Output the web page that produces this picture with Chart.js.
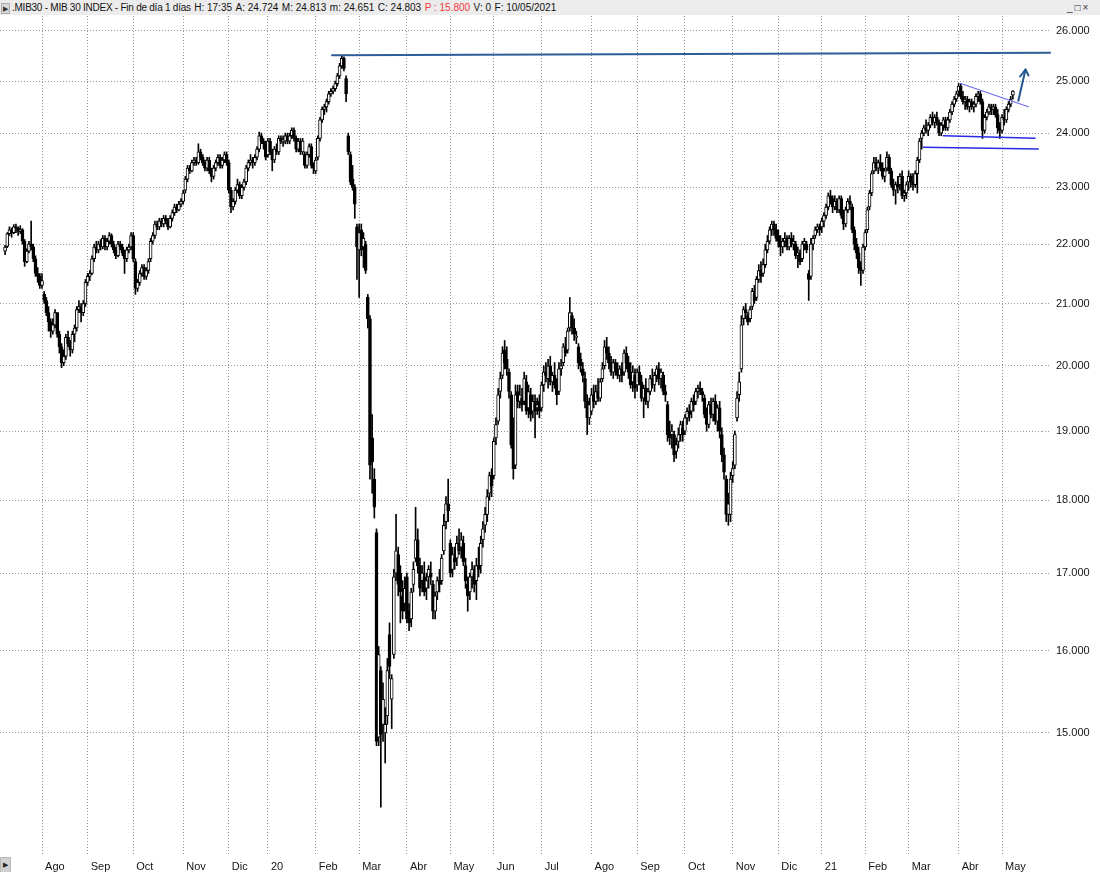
<!DOCTYPE html>
<html>
<head>
<meta charset="utf-8">
<script src="https://cdn.jsdelivr.net/npm/chart.js@4.4.1/dist/chart.umd.min.js"></script>
<style>
html,body{margin:0;padding:0;background:#fff;overflow:hidden;width:1100px;height:872px;}
#wrap{position:absolute;left:0;top:0;width:1100px;height:872px;}
#hdr{position:absolute;left:0;top:0;width:1100px;height:15px;background:#ececec;font-family:Arial,"Liberation Sans",sans-serif;font-size:10px;color:#111;line-height:15px;white-space:pre;z-index:2;}
#hdr .tri{position:absolute;left:1px;top:3px;width:7px;height:9px;background:#d6d6d6;border:1px solid #b0b0b0;font-size:7px;line-height:9px;text-align:center;color:#333;}
#hdr .txt{position:absolute;left:12px;top:0;}
#hdr .txt span{margin-left:3.5px;}
#hdr .txt span.first{margin-left:0;letter-spacing:-0.25px;}
#hdr .red{color:#f03a3a;}
#hdr .win{position:absolute;left:1067px;top:0;font-size:10px;color:#333;letter-spacing:2px;}
#btn{position:absolute;left:0;top:857px;width:9px;height:14px;background:#d0d0d0;border:1px solid #b8b8b8;font-size:7px;line-height:14px;text-align:center;color:#222;font-family:Arial,sans-serif;z-index:2;}
</style>
</head>
<body>
<div id="wrap"><canvas id="c"></canvas></div>
<div id="hdr"><span class="tri">&#9654;</span><span class="txt"><span class="first">.MIB30 - MIB 30 INDEX - Fin de día 1 días</span><span>H: 17:35</span><span>A: 24.724</span><span>M: 24.813</span><span>m: 24.651</span><span>C: 24.803</span><span class="red">P : 15.800</span><span>V: 0</span><span>F: 10/05/2021</span></span><span class="win">_□×</span></div>
<div id="btn">&#9654;</div>
<script>
// Daily candles, 9 Jul 2019 .. 10 May 2021 (one row per month)
const open = [
21880,21960,22180,22250,22200,22300,22280,22220,22250,22050,21700,21880,22000,21950,21750,21500,21450,
21300,21150,21050,20850,20700,20550,20650,20850,20500,20300,20050,20150,20450,20350,20250,20500,20600,20900,20950,20850,21000,
21350,21450,21500,21750,21950,21900,22000,21950,22100,21950,22050,22150,22000,21900,21800,22000,21950,21850,21750,21900,21950,
22150,21700,21250,21350,21500,21600,21450,21550,21750,22050,22150,22350,22300,22400,22350,22450,22400,22300,22450,22550,22650,22600,22700,
22750,22950,23150,23350,23300,23450,23500,23450,23650,23550,23450,23350,23500,23300,23200,23350,23450,23550,23400,23500,23600,
23450,22950,22650,22750,22950,23050,22850,23000,23100,23350,23450,23500,23450,23550,23700,23950,23850,23800,
23600,23850,23650,23500,23700,23650,23900,23850,23850,23950,23850,23950,24050,23900,23700,23850,23650,23600,23400,23600,23750,23400,
23300,23550,23900,24250,24450,24500,24600,24750,24800,24850,24950,25100,25300,25450,25050,23950,23600,23150,23000,22300,
21900,22250,21950,22000,21100,20750,18900,18300,17550,14950,15750,15100,15000,15200,16200,15400,15950,17000,17250,17000,16700,16600,
16950,16500,16400,16850,17200,17450,17100,16900,16950,16800,16950,17000,16850,16500,16750,16900,16900,17300,17700,17950,
17400,17050,17200,17200,17400,17350,17400,17100,16850,16750,16950,17000,16900,17100,17100,17450,17650,17800,18100,18350,
18350,18900,19150,19600,19850,20250,20100,19900,19550,18850,18500,19600,19450,19500,19450,19750,19350,19550,19300,19450,19350,19450,
19350,19700,19900,19800,20000,19750,19850,19700,19600,19950,20050,20300,20250,20600,20800,20600,20450,20300,20100,19950,19800,19450,19200,
19300,19550,19450,19600,19500,19800,20000,20300,20200,20050,19900,20050,19950,19850,19950,19900,20200,20050,19900,19750,19850,
19700,19900,19750,19500,19650,19450,19600,19800,19700,19850,19950,19800,19850,19600,19400,18950,18950,18950,18700,18850,18950,19050,
19000,19200,19300,19300,19450,19450,19600,19650,19600,19500,19250,19100,19400,19250,19450,19150,19350,18950,18650,18300,17800,17800,
18350,18500,19200,19550,19950,20750,20900,20800,20750,20950,21150,21100,21400,21550,21500,21650,21900,22050,22250,22350,22250,
22150,22050,21950,22050,22100,21950,22100,22000,22000,21800,21850,21750,22000,22000,21500,21450,22000,22150,22250,22300,
22300,22400,22500,22650,22850,22800,22650,22750,22600,22800,22500,22350,22600,22750,22650,22250,22000,21850,21600,21550,
21950,22250,22650,22900,23300,23450,23350,23450,23350,23200,23350,23550,23300,23050,22950,23050,23050,23200,22850,22900,
23100,23200,23100,23050,23250,23500,23900,24000,24100,24050,24150,24300,24200,24300,24200,24000,24150,24250,24100,24250,24400,24550,24650,
24800,24900,24700,24600,24650,24500,24600,24500,24550,24700,24750,24600,24050,24300,24400,24500,24450,24500,24350,24100,
24050,24300,24250,24450,24550,24724
];
const high = [
21980,22200,22300,22280,22340,22350,22300,22320,22270,22080,21920,22050,22400,22000,21800,21600,21500,
21500,21200,21100,20950,20750,20750,20900,20850,20550,20350,20250,20500,20550,20400,20550,20650,20950,21050,21000,21050,21400,
21500,21550,21800,22000,22050,22050,22080,22150,22150,22100,22200,22180,22050,21950,22050,22050,22000,21900,21950,22000,22200,
22200,21750,21400,21550,21650,21650,21600,21750,22100,22200,22400,22400,22450,22450,22500,22500,22450,22500,22600,22700,22700,22750,22800,
22950,23200,23400,23400,23500,23550,23550,23800,23700,23600,23500,23550,23550,23350,23400,23500,23600,23600,23550,23650,23650,
23500,23000,22800,23000,23150,23100,23050,23150,23400,23500,23600,23550,23600,23750,24020,24000,23900,23850,
23900,23900,23700,23750,23800,23950,23950,23950,24000,24000,24000,24100,24100,23950,23900,23900,23900,23650,23650,23800,23800,23450,
23550,23950,24300,24500,24550,24650,24800,24850,24900,25000,25150,25350,25500,25480,25100,24000,23650,23400,23050,22350,
22350,22350,22200,22050,21150,20800,19250,18450,17600,16050,15800,15600,15300,15900,16350,15700,17050,17800,17350,17100,16900,16950,
17000,16600,16800,17150,17900,17600,17200,17100,17150,17000,17100,17150,16900,16750,16950,17050,17250,17800,18050,18300,
17450,17350,17350,17500,17600,17550,17500,17200,16950,17000,17150,17100,17200,17350,17500,17700,17900,18150,18400,18450,
18900,19200,19650,19900,20300,20400,20300,19950,19600,19200,19700,19700,19700,19650,19900,19850,19700,19650,19550,19550,19500,19550,
19750,20000,20050,20100,20150,19900,20050,19800,20050,20100,20350,20450,20600,21100,20850,20750,20550,20350,20200,20050,19900,19550,19500,
19650,19700,19700,19800,19800,20050,20400,20450,20300,20150,20100,20100,20050,20000,20050,20250,20300,20150,20050,20000,19950,
19950,20000,19850,19700,19800,19650,19850,19950,19900,20000,20050,19950,19900,19700,19450,19150,19100,19000,18900,19050,19150,19150,
19250,19350,19400,19500,19550,19650,19700,19750,19650,19550,19350,19450,19500,19500,19550,19400,19450,19050,18750,18350,18100,18400,
18550,19000,19600,19900,20800,20950,21000,20850,20950,21250,21300,21450,21650,21700,21750,22000,22150,22300,22400,22400,22350,
22250,22150,22100,22200,22150,22150,22200,22150,22050,21950,21900,22050,22100,22050,21550,22100,22150,22300,22350,22350,
22450,22550,22700,22900,22950,22850,22850,22800,22850,22850,22600,22650,22800,22850,22700,22300,22100,21950,21700,22000,
22250,22650,22950,23300,23550,23550,23500,23600,23450,23350,23650,23600,23350,23150,23100,23200,23250,23300,22950,23100,
23300,23250,23250,23300,23550,23900,24050,24150,24250,24200,24350,24400,24350,24400,24250,24200,24300,24300,24300,24450,24600,24700,24800,
24950,24950,24800,24700,24700,24650,24650,24600,24750,24800,24800,24650,24350,24450,24550,24550,24550,24550,24450,24200,
24350,24450,24500,24600,24700,24813
];
const low = [
21820,21940,22150,22120,22180,22200,22150,22180,22000,21620,21680,21850,21900,21700,21450,21350,21250,
21250,21000,20800,20550,20450,20500,20600,20450,20200,19970,20000,20100,20300,20150,20200,20380,20550,20850,20700,20800,20950,
21300,21380,21480,21700,21850,21850,21900,21920,21900,21900,22000,21950,21850,21750,21780,21900,21800,21500,21700,21850,21900,
21700,21150,21200,21300,21450,21400,21400,21500,21700,22000,22100,22250,22250,22300,22300,22350,22250,22280,22400,22500,22550,22580,22650,
22700,22900,23100,23250,23280,23400,23400,23420,23500,23400,23300,23300,23250,23100,23150,23300,23400,23350,23350,23450,23400,
22900,22550,22600,22700,22900,22800,22800,22950,23050,23300,23400,23350,23400,23500,23650,23800,23700,23500,
23550,23600,23300,23450,23600,23600,23800,23750,23800,23800,23800,23900,23850,23650,23650,23600,23600,23350,23350,23550,23350,23250,
23250,23500,23850,24200,24350,24400,24550,24700,24750,24800,24900,25050,25250,25200,24600,23600,23050,22950,22450,21400,
21100,21800,21600,21500,20600,18300,18100,17750,14850,14850,14150,14900,14650,15100,15650,15050,15900,16900,16700,16350,16400,16500,
16350,16250,16300,16750,17150,17000,16700,16750,16700,16650,16800,16850,16400,16400,16650,16750,16850,17250,17600,17700,
16950,16950,17050,17100,17250,17200,17100,16800,16500,16650,16800,16750,16650,16950,17000,17350,17550,17700,18000,18050,
18300,18800,19100,19500,19800,19950,19850,19500,18750,18300,18450,19350,19350,19300,19400,19250,19200,19150,19200,18900,19250,19200,
19300,19600,19750,19650,19700,19600,19650,19400,19550,19850,20000,20150,20200,20550,20500,20400,20350,19950,19900,19750,19350,18950,19100,
19250,19350,19400,19450,19450,19750,19950,20100,19950,19850,19800,19850,19800,19750,19750,19850,19950,19800,19650,19600,19500,
19600,19700,19450,19200,19400,19350,19550,19650,19600,19750,19700,19650,19550,19450,18850,18800,18750,18550,18600,18750,18850,18850,
18950,19100,19150,19200,19300,19400,19500,19550,19450,19200,19000,19050,19200,19150,19100,19000,18900,18550,18300,17700,17650,17700,
18250,18450,19150,19450,19900,20650,20750,20650,20700,20900,21000,21050,21350,21350,21450,21600,21850,22000,22150,22150,22050,
21950,21800,21850,21950,21900,21900,21950,21900,21750,21600,21650,21700,21900,21850,21050,21400,21900,22100,22200,22150,
22200,22300,22450,22600,22700,22550,22600,22550,22550,22450,22250,22300,22550,22600,22200,21900,21750,21500,21300,21500,
21900,22200,22600,22850,23250,23300,23250,23300,23150,23100,23300,23250,23000,22850,22700,22900,22950,22800,22750,22800,
22950,23000,22950,23000,22900,23450,23700,23950,24000,23950,24100,24150,24100,24150,23950,23950,24050,24050,24050,24200,24350,24500,24600,
24700,24650,24550,24450,24450,24400,24450,24400,24500,24600,24550,23900,24000,24250,24350,24350,24350,24300,24000,23900,
24000,24150,24200,24400,24500,24651
];
const close = [
21950,22180,22250,22200,22300,22280,22220,22250,22050,21700,21880,22000,21950,21750,21500,21450,21300,
21380,21050,20850,20700,20550,20650,20850,20500,20300,20050,20150,20450,20350,20250,20500,20600,20900,20950,20850,21000,21350,
21450,21500,21750,21950,21900,22000,21950,22100,21950,22050,22150,22000,21900,21800,22000,21950,21850,21750,21900,21950,22150,
21750,21250,21350,21500,21600,21450,21550,21700,22050,22150,22350,22300,22400,22350,22450,22400,22300,22450,22550,22650,22600,22700,22750,
22900,23150,23350,23300,23450,23500,23450,23650,23550,23450,23350,23500,23300,23200,23350,23450,23550,23400,23500,23600,23450,
22950,22650,22750,22950,23050,22850,23000,23100,23350,23450,23500,23450,23550,23700,23950,23850,23800,23550,
23850,23650,23500,23700,23650,23900,23850,23850,23950,23850,23950,24050,23900,23700,23850,23650,23850,23400,23600,23750,23400,23350,
23500,23900,24250,24450,24500,24600,24750,24800,24850,24950,25100,25300,25450,25250,24750,23650,23100,23000,22700,21950,
22200,21900,22100,21550,20750,18500,18550,17900,14900,15950,14980,15400,15100,15750,15800,15650,16950,17300,16850,16750,16500,16800,
16400,16350,16750,17050,17450,17100,16800,17000,16750,16900,17050,16950,16500,16700,16900,16850,17200,17650,17950,17850,
17000,17250,17150,17400,17300,17450,17150,16900,16700,16950,17050,16850,17100,17050,17400,17600,17800,18050,18350,18200,
18850,19100,19550,19800,20200,20050,19950,19600,18800,18450,19550,19450,19550,19400,19800,19300,19600,19250,19450,19300,19400,19300,
19700,19900,19850,20000,19750,19850,19700,19550,19950,20000,20300,20200,20550,20850,20600,20500,20450,20050,20000,19850,19450,19200,19400,
19550,19450,19600,19500,19750,19950,20300,20200,20050,19900,20050,19950,19850,19950,19850,20200,20050,19900,19700,19900,19650,
19900,19750,19500,19650,19450,19600,19800,19700,19850,19950,19800,19900,19600,19550,18950,18900,19000,18650,18800,18950,19100,18950,
19200,19300,19250,19450,19400,19600,19650,19600,19550,19250,19100,19400,19250,19450,19150,19350,19000,18650,18400,17800,17950,18300,
18450,18950,19500,19750,20650,20900,20850,20700,20900,21200,21050,21400,21550,21450,21650,21900,22050,22250,22350,22250,22100,
22050,21950,22050,22100,21950,22100,22000,22050,21800,21850,21700,22000,22050,21900,21400,22000,22100,22250,22300,22250,
22400,22500,22650,22850,22800,22650,22750,22600,22800,22500,22350,22600,22750,22700,22250,22000,21850,21600,21550,21950,
22200,22600,22900,23250,23450,23350,23450,23350,23200,23300,23550,23300,23050,22950,23050,23000,23200,22850,22900,23050,
23200,23100,23050,23250,23500,23850,24000,24100,24050,24150,24300,24200,24300,24200,24000,24150,24250,24100,24250,24400,24550,24650,24750,
24900,24700,24600,24650,24500,24600,24500,24550,24700,24750,24600,24050,24300,24400,24500,24450,24500,24350,24100,24050,
24300,24250,24450,24550,24650,24803
];
// First trading day of each month (candle index) and its label
const monthStarts = [17,38,59,82,103,121,143,163,185,205,225,247,270,291,313,335,356,376,396,416,439,459];
const monthLabels = ["Ago","Sep","Oct","Nov","Dic","20","Feb","Mar","Abr","May","Jun","Jul","Ago","Sep","Oct","Nov","Dic","21","Feb","Mar","Abr","May"];
const yTicks = [15000,16000,17000,18000,19000,20000,21000,22000,23000,24000,25000,26000];
// Drawn trend lines: [candle index, price]
const resistance = [[150.5,25509],[481.1,25560]];
const upperTrend = [[439.7,24956],[471.1,24502]];
const support1 = [[432.0,23952],[474.2,23903]];
const support2 = [[422.8,23735],[475.7,23703]];
const arrowShaft = [[466.5,24618],[469.8,25227]];
const arrowHead = [[467.3,25089],[469.8,25227],[471.2,25109]];

const pts = a => a.map(p => ({x:p[0], y:p[1]}));
const idx = close.map((_, i) => i);
const bodies = idx.map(i => ({x:i, y:[open[i], close[i]]}));
const wicks = idx.map(i => ({x:i, y:[low[i], high[i]]}));
const bodyFill = idx.map(i => close[i] >= open[i] ? '#ffffff' : '#000000');
const fmt = v => String(Math.round(v)).replace(/\B(?=(\d{3})+(?!\d))/g, '.');

Chart.defaults.font.family = 'Arial, "Liberation Sans", sans-serif';
Chart.defaults.font.size = 11;
const lineDs = (data, color, width, extra) => Object.assign({
  type:'line', data:pts(data), borderColor:color, borderWidth:width, pointRadius:0,
  fill:false, tension:0, order:0, borderCapStyle:'round', borderJoinStyle:'round'
}, extra || {});

new Chart(document.getElementById('c'), {
  type:'bar',
  data:{datasets:[
    lineDs(resistance, '#2d5e98', 2, {clip:false}),
    lineDs(upperTrend, '#6b6bf2', 1.2),
    lineDs(support1, '#2a2ae6', 1.5),
    lineDs(support2, '#2a2ae6', 1.5),
    lineDs(arrowShaft, '#24568f', 2),
    lineDs(arrowHead, '#24568f', 2),
    {type:'bar', data:bodies, backgroundColor:bodyFill, borderColor:'#000', borderWidth:1,
     borderSkipped:false, barThickness:3, grouped:false, minBarLength:1, order:1},
    {type:'bar', data:wicks, backgroundColor:'#000', borderWidth:0,
     barThickness:1, grouped:false, order:2}
  ]},
  options:{
    responsive:true, maintainAspectRatio:false, animation:false, devicePixelRatio:1,
    layout:{padding:{top:16,left:0,right:0,bottom:0}},
    plugins:{legend:{display:false}, tooltip:{enabled:false}},
    scales:{
      x:{type:'linear', min:-2.34, max:477.4, offset:false, bounds:'data',
        afterBuildTicks:s => { s.ticks = monthStarts.map(v => ({value:v})); },
        afterFit:s => { s.height = 18; },
        ticks:{autoSkip:false, maxRotation:0, align:'start', padding:6, color:'#151515',
          callback:(v, i) => ' ' + monthLabels[i]},
        grid:{offset:false, color:'#9a9a9a', lineWidth:1, drawTicks:false},
        border:{display:false, dash:[1,2]}
      },
      y:{type:'logarithmic', position:'right', min:13641, max:26307, bounds:'data',
        afterBuildTicks:s => { s.ticks = yTicks.map(v => ({value:v})); },
        afterFit:s => { s.width = 58; },
        ticks:{autoSkip:false, padding:6, color:'#151515', callback:v => fmt(v)},
        grid:{color:'#9a9a9a', lineWidth:1, tickLength:8, tickColor:'#9a9a9a', tickBorderDash:[1,2]},
        border:{display:false, dash:[1,2]}
      }
    }
  }
});
</script>
</body>
</html>
